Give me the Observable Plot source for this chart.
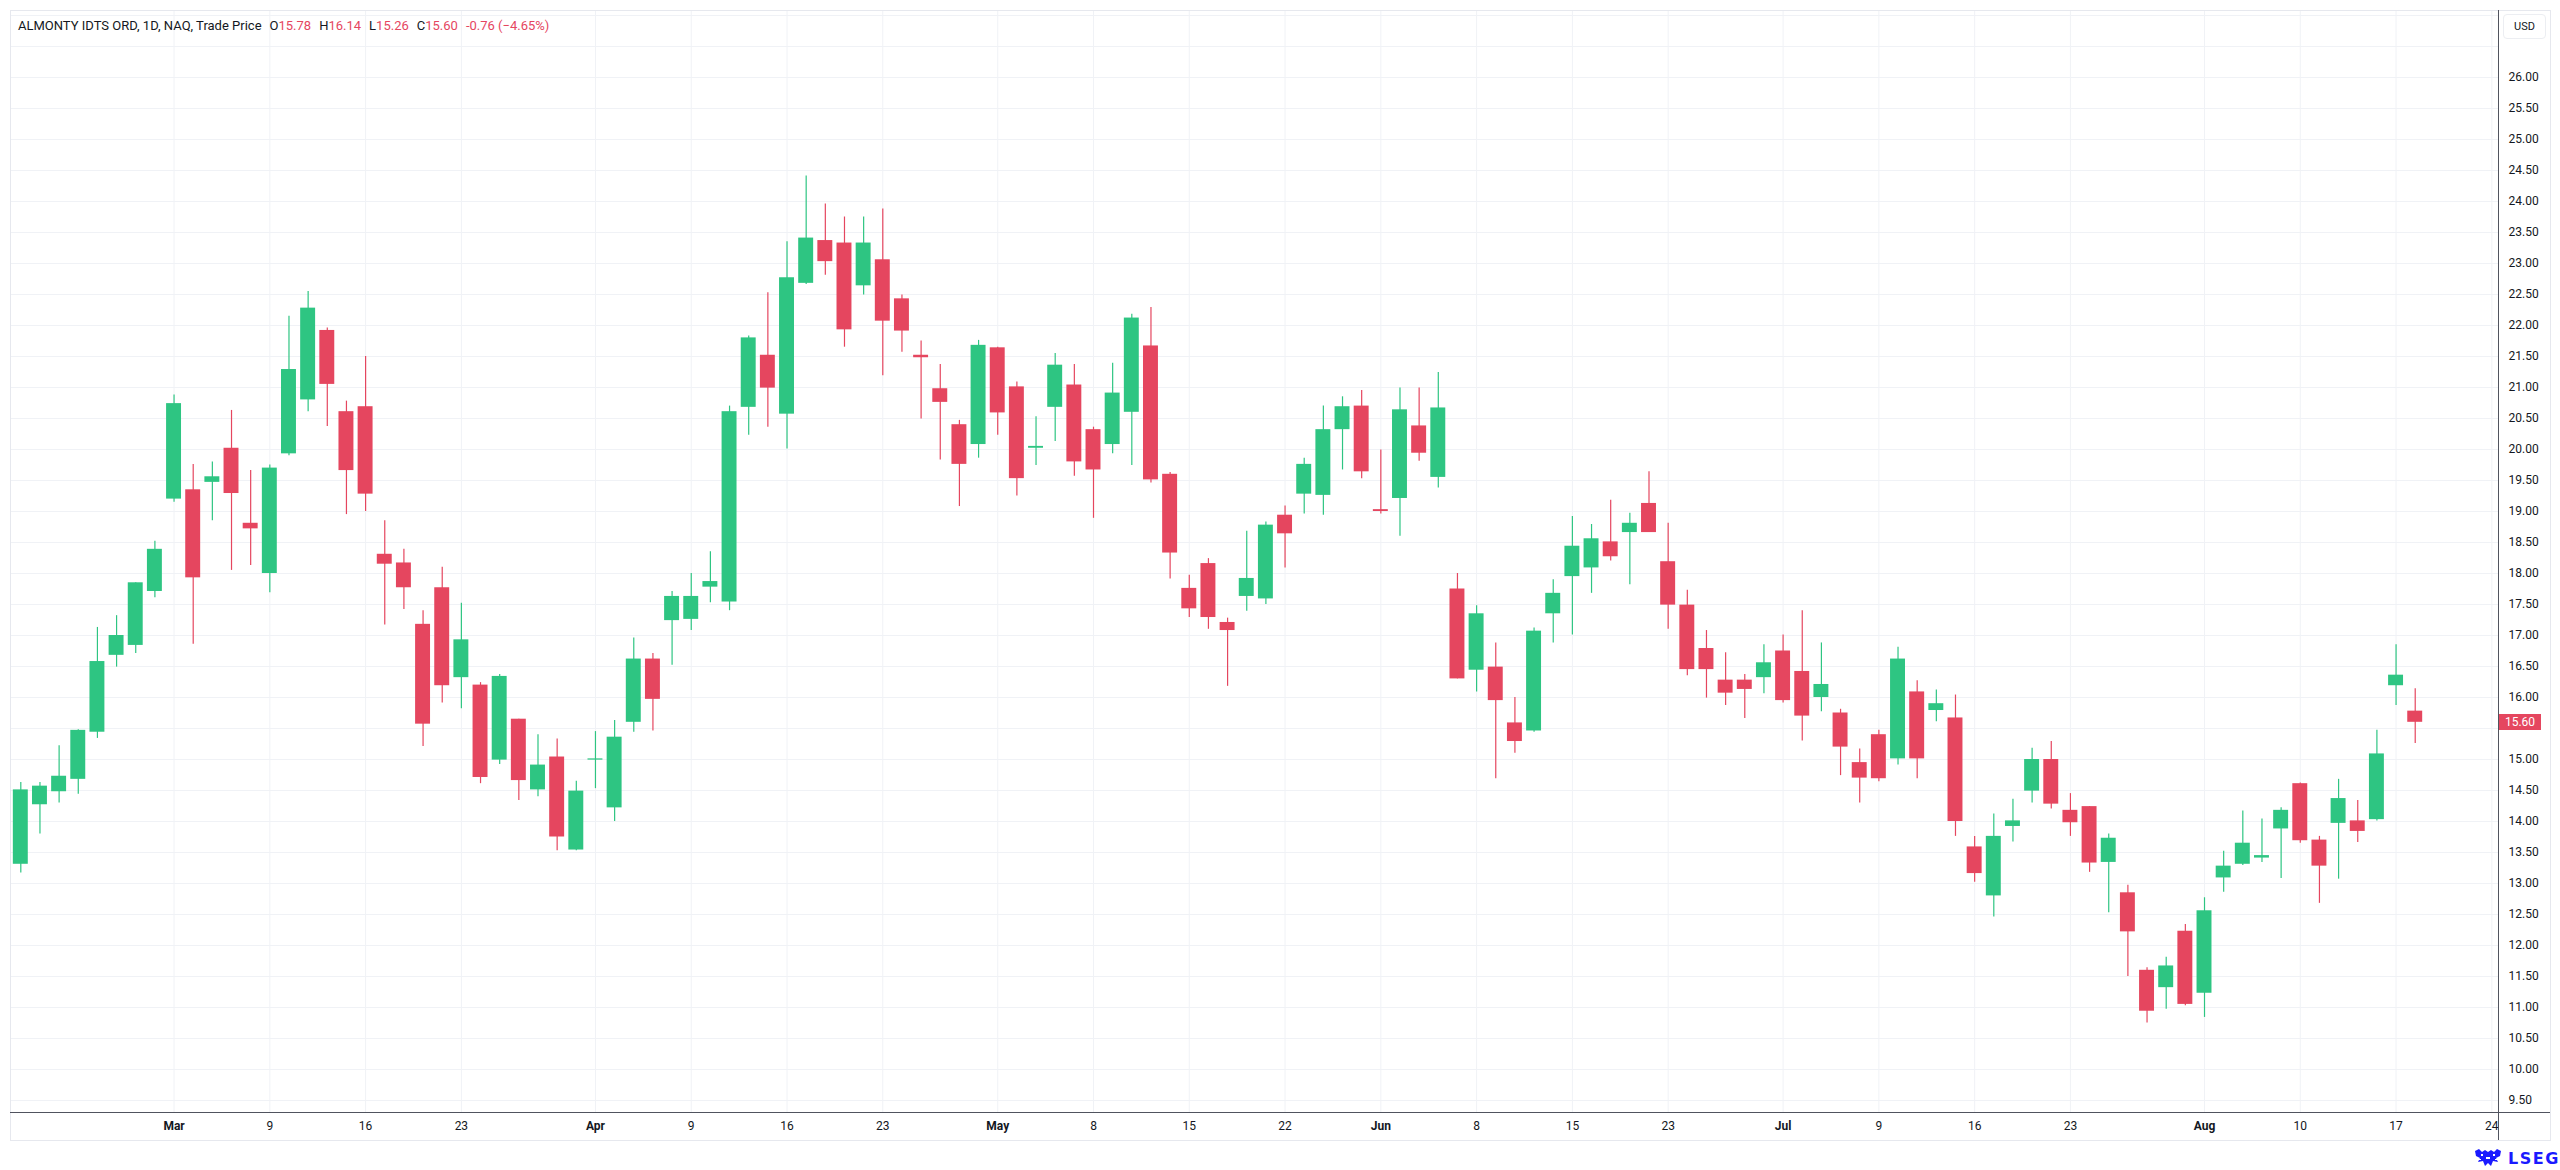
<!DOCTYPE html>
<html>
<head>
<meta charset="utf-8">
<script src="https://cdn.jsdelivr.net/npm/d3@7"></script>
<script src="https://cdn.jsdelivr.net/npm/@observablehq/plot@0.6"></script>
<style>
  html, body { margin: 0; padding: 0; background: #ffffff; }
  #wrap { position: relative; width: 2560px; height: 1170px; overflow: hidden; font-family: Roboto, "Open Sans", sans-serif; color: #131722; }
  #chart { position: absolute; left: 0; top: 0; }
  .line { position: absolute; }
  #title { position: absolute; left: 18px; top: 18px; font-size: 13px; line-height: 16px; white-space: nowrap; color: #131722; }
  #title .g { margin-left: 8px; }
  #title .v { color: #e5465f; }
  #usd { position: absolute; left: 2503px; top: 14px; width: 43px; height: 25px; box-sizing: border-box; border: 1px solid #eceef2; border-radius: 4px; font-size: 11px; line-height: 23px; text-align: center; color: #131722; background: #fff; }
  #badge { position: absolute; left: 2499px; width: 42px; height: 16px; background: #e5465f; color: #fff; font-size: 12px; line-height: 16px; text-align: center; }
  #logo { position: absolute; left: 2474px; top: 1148px; height: 20px; display: flex; align-items: center; }
  #logo span { font-family: "DejaVu Sans", sans-serif; font-weight: bold; font-size: 16px; letter-spacing: 1.5px; color: #1a1aff; margin-left: 6px; }
</style>
</head>
<body>
<div id="wrap">
  <div id="chart"></div>
  <div class="line" style="left:10px;top:10px;width:2540px;height:1px;background:#e6e8ee;"></div>
  <div class="line" style="left:10px;top:10px;width:1px;height:1130px;background:#e6e8ee;"></div>
  <div class="line" style="left:2550px;top:10px;width:1px;height:1130px;background:#e6e8ee;"></div>
  <div class="line" style="left:10px;top:1140px;width:2541px;height:1px;background:#e6e8ee;"></div>
  <div class="line" style="left:2498px;top:10px;width:1px;height:1130px;background:#50535e;"></div>
  <div class="line" style="left:10px;top:1112px;width:2540px;height:1px;background:#50535e;"></div>
  <div id="title"></div>
  <div id="usd">USD</div>
  <div id="badge"></div>
  <div id="logo">
    <svg width="28" height="18" viewBox="0 0 28 18">
      <g fill="#1a1aff">
        <path d="M1 2 L5 0 L8 3 L11 1 L14 3 L17 1 L20 3 L23 0 L27 2 L26 7 L22 9 L24 13 L19 12 L17 17 L14 14 L11 17 L9 12 L4 13 L6 9 L2 7 Z"/>
      </g>
      <g fill="#ffffff">
        <rect x="7" y="5" width="2" height="2"/><rect x="19" y="5" width="2" height="2"/>
        <rect x="12" y="8" width="4" height="2"/><rect x="5" y="10" width="2" height="1"/><rect x="21" y="10" width="2" height="1"/>
      </g>
    </svg>
    <span>LSEG</span>
  </div>
</div>
<script>
// Daily candles (trading days from 18 Feb to 18 Aug), index 0..125
const opens = [
  13.31, 14.27, 14.48, 14.68, 15.44, 16.68, 16.84, 17.71, 19.20, 19.35,
  19.47, 20.02, 18.81, 18.00, 19.93, 20.80, 21.92, 20.61, 20.69, 18.31,
  18.17, 17.18, 17.77, 16.32, 16.20, 14.99, 15.65, 14.51, 15.04, 13.54,
  14.99, 14.22, 15.60, 16.62, 17.24, 17.26, 17.78, 17.54, 20.68, 21.52,
  20.57, 22.68, 23.37, 23.33, 22.64, 23.06, 22.43, 21.52, 20.98, 20.40,
  20.08, 21.64, 21.01, 20.02, 20.68, 21.04, 20.32, 20.08, 20.60, 21.67,
  19.60, 17.76, 18.16, 17.21, 17.63, 17.59, 18.94, 19.28, 19.26, 20.32,
  20.70, 19.03, 19.21, 20.38, 19.55, 17.75, 16.44, 16.49, 15.59, 15.46,
  17.35, 17.95, 18.09, 18.51, 18.66, 19.13, 18.19, 17.49, 16.79, 16.28,
  16.28, 16.32, 16.75, 16.42, 16.00, 15.75, 14.95, 15.40, 15.01, 16.09,
  15.79, 15.67, 13.59, 12.80, 13.92, 14.49, 15.00, 14.18, 14.24, 13.34,
  12.85, 11.60, 11.32, 12.23, 11.23, 13.09, 13.31, 13.41, 13.88, 14.61,
  13.70, 13.97, 14.01, 14.03, 16.19, 15.78
];
const highs = [
  14.63, 14.63, 15.22, 15.48, 17.13, 17.32, 17.85, 18.52, 20.88, 19.76,
  19.80, 20.63, 19.66, 19.75, 22.15, 22.55, 21.96, 20.78, 21.50, 18.85,
  18.39, 17.40, 18.10, 17.52, 16.24, 16.37, 15.65, 15.40, 15.33, 14.65,
  15.45, 15.63, 16.96, 16.71, 17.71, 18.00, 18.35, 20.70, 21.83, 22.53,
  23.35, 24.41, 23.96, 23.75, 23.75, 23.88, 22.49, 21.75, 21.37, 20.47,
  21.76, 21.65, 21.09, 20.53, 21.55, 21.37, 20.36, 21.39, 22.18, 22.29,
  19.63, 17.97, 18.24, 17.28, 18.68, 18.83, 19.09, 19.86, 20.70, 20.85,
  20.95, 19.99, 20.99, 20.99, 21.24, 18.00, 17.48, 16.88, 16.00, 17.12,
  17.90, 18.92, 18.79, 19.18, 18.97, 19.64, 18.81, 17.73, 17.08, 16.72,
  16.37, 16.85, 17.01, 17.40, 16.88, 15.81, 15.17, 15.47, 16.81, 16.27,
  16.12, 16.04, 13.76, 14.12, 14.36, 15.18, 15.29, 14.45, 14.24, 13.80,
  12.97, 11.64, 11.81, 12.34, 12.77, 13.52, 14.17, 14.04, 14.22, 14.62,
  13.76, 14.68, 14.34, 15.47, 16.85, 16.14
];
const lows = [
  13.17, 13.80, 14.30, 14.44, 15.34, 16.49, 16.71, 17.61, 19.15, 16.86,
  18.85, 18.05, 18.13, 17.69, 19.90, 20.61, 20.37, 18.95, 19.00, 17.17,
  17.42, 15.21, 15.91, 15.82, 14.61, 14.92, 14.34, 14.40, 13.53, 13.53,
  14.53, 14.00, 15.44, 15.46, 16.52, 17.08, 17.53, 17.40, 20.23, 20.36,
  20.01, 22.66, 22.81, 21.65, 22.49, 21.19, 21.57, 20.49, 19.83, 19.08,
  19.86, 20.23, 19.25, 19.74, 20.13, 19.57, 18.89, 19.93, 19.74, 19.46,
  17.91, 17.29, 17.10, 16.18, 17.39, 17.50, 18.09, 18.96, 18.94, 19.67,
  19.53, 18.96, 18.60, 19.81, 19.38, 16.30, 16.09, 14.69, 15.10, 15.44,
  16.88, 17.01, 17.68, 18.20, 17.82, 18.66, 17.10, 16.35, 15.99, 15.87,
  15.66, 16.06, 15.91, 15.30, 15.77, 14.74, 14.30, 14.64, 14.91, 14.69,
  15.61, 13.76, 13.02, 12.46, 13.67, 14.30, 14.20, 13.76, 13.18, 12.53,
  11.50, 10.75, 10.97, 11.03, 10.84, 12.86, 13.29, 13.34, 13.08, 13.65,
  12.68, 13.07, 13.66, 14.01, 15.87, 15.26
];
const closes = [
  14.51, 14.57, 14.73, 15.47, 16.58, 17.00, 17.85, 18.39, 20.74, 17.93,
  19.56, 19.29, 18.72, 19.70, 21.29, 22.28, 21.05, 19.66, 19.28, 18.15,
  17.77, 15.57, 16.19, 16.93, 14.71, 16.34, 14.66, 14.91, 13.75, 14.49,
  15.01, 15.36, 16.62, 15.97, 17.63, 17.63, 17.87, 20.61, 21.80, 20.99,
  22.77, 23.41, 23.03, 21.93, 23.33, 22.07, 21.91, 21.48, 20.76, 19.76,
  21.68, 20.59, 19.53, 20.05, 21.36, 19.80, 19.67, 20.91, 22.12, 19.51,
  18.33, 17.43, 17.29, 17.08, 17.92, 18.78, 18.64, 19.76, 20.32, 20.69,
  19.64, 19.00, 20.64, 19.94, 20.67, 16.30, 17.35, 15.95, 15.29, 17.07,
  17.68, 18.44, 18.56, 18.27, 18.81, 18.66, 17.49, 16.45, 16.45, 16.07,
  16.13, 16.56, 15.95, 15.70, 16.21, 15.20, 14.70, 14.69, 16.62, 15.01,
  15.90, 14.00, 13.16, 13.76, 14.01, 15.00, 14.28, 13.98, 13.33, 13.73,
  12.22, 10.94, 11.67, 11.05, 12.56, 13.28, 13.65, 13.45, 14.18, 13.69,
  13.28, 14.37, 13.84, 15.09, 16.36, 15.60
];

// Time axis ticks: bar index and label
const tickIndex = [8, 13, 18, 23, 30, 35, 40, 45, 51, 56, 61, 66, 71, 76, 81, 86, 92, 97, 102, 107, 114, 119, 124, 129];
const tickLabel = ["Mar", "9", "16", "23", "Apr", "9", "16", "23", "May", "8", "15", "22", "Jun", "8", "15", "23", "Jul", "9", "16", "23", "Aug", "10", "17", "24"];
const monthTick = [true, false, false, false, true, false, false, false, true, false, false, false, true, false, false, false, true, false, false, false, true, false, false, false];

// Price scale ticks
const priceTicks = [9.5, 10, 10.5, 11, 11.5, 12, 12.5, 13, 13.5, 14, 14.5, 15, 15.5, 16, 16.5, 17, 17.5, 18, 18.5, 19, 19.5, 20, 20.5, 21, 21.5, 22, 22.5, 23, 23.5, 24, 24.5, 25, 25.5, 26];
const extraGrid = [26.5, 27];

const UP = "#2ec582", DOWN = "#e5465f", GRID = "#f0f2f6";

const candles = opens.map((o, i) => ({ i, open: o, high: highs[i], low: lows[i], close: closes[i] }));
const colorOf = d => (d.close >= d.open ? UP : DOWN);
const ticks = tickIndex.map((t, k) => ({ i: t, label: tickLabel[k], month: monthTick[k] }));
const last = candles[candles.length - 1];
const prev = candles[candles.length - 2];

const X_MIN = -0.538, X_MAX = 129.40;
const Y_MIN = 9.3065, Y_MAX = 27.0806;
const HALF = 0.39;

// tick labels hidden behind the last-price badge are not drawn (as on the price scale)
const visiblePriceLabels = priceTicks.filter(p => Math.abs(p - last.close) > 0.2);

const plot = Plot.plot({
  width: 2560,
  height: 1170,
  marginLeft: 10,
  marginRight: 61,
  marginTop: 10,
  marginBottom: 58,
  x: { domain: [X_MIN, X_MAX], axis: null },
  y: { domain: [Y_MIN, Y_MAX], axis: null },
  color: { type: "identity" },
  style: { fontFamily: "Roboto, 'Open Sans', sans-serif", fontSize: "12px", color: "#131722", background: "transparent", overflow: "visible" },
  marks: [
    Plot.ruleY(priceTicks.concat(extraGrid), { stroke: GRID, strokeWidth: 1 }),
    Plot.ruleX(tickIndex, { stroke: GRID, strokeWidth: 1 }),
    Plot.ruleX(candles, { x: "i", y1: "low", y2: "high", stroke: colorOf, strokeWidth: 1.2 }),
    Plot.rect(candles, { x1: d => d.i - HALF, x2: d => d.i + HALF, y1: "open", y2: "close", fill: colorOf }),
    Plot.text(visiblePriceLabels, { x: X_MAX, y: d => d, text: d => d.toFixed(2), textAnchor: "start", dx: 9, fill: "#131722", fontSize: 12 }),
    Plot.text(ticks.filter(d => !d.month), { x: "i", y: Y_MIN, text: "label", dy: 14, fill: "#131722", fontSize: 12 }),
    Plot.text(ticks.filter(d => d.month), { x: "i", y: Y_MIN, text: "label", dy: 14, fill: "#131722", fontSize: 12, fontWeight: "bold" })
  ]
});
document.getElementById("chart").appendChild(plot);

// Last price badge on the price scale
const yLast = plot.scale("y").apply(last.close);
const badge = document.getElementById("badge");
badge.textContent = last.close.toFixed(2);
badge.style.top = (yLast - 8) + "px";
badge.style.background = colorOf(last);

// Legend / title line
const chg = last.close - prev.close;
const pct = chg / prev.close * 100;
const fmtSigned = v => (v < 0 ? "-" : "+") + Math.abs(v).toFixed(2);
const title = document.getElementById("title");
title.innerHTML =
  '<span>ALMONTY IDTS ORD, 1D, NAQ, Trade Price</span>' +
  '<span class="g">O</span><span class="v">' + last.open.toFixed(2) + '</span>' +
  '<span class="g">H</span><span class="v">' + last.high.toFixed(2) + '</span>' +
  '<span class="g">L</span><span class="v">' + last.low.toFixed(2) + '</span>' +
  '<span class="g">C</span><span class="v">' + last.close.toFixed(2) + '</span>' +
  '<span class="g v">' + fmtSigned(chg) + ' (' + (pct < 0 ? "\u2212" : "+") + Math.abs(pct).toFixed(2) + '%)</span>';
</script>
</body>
</html>
